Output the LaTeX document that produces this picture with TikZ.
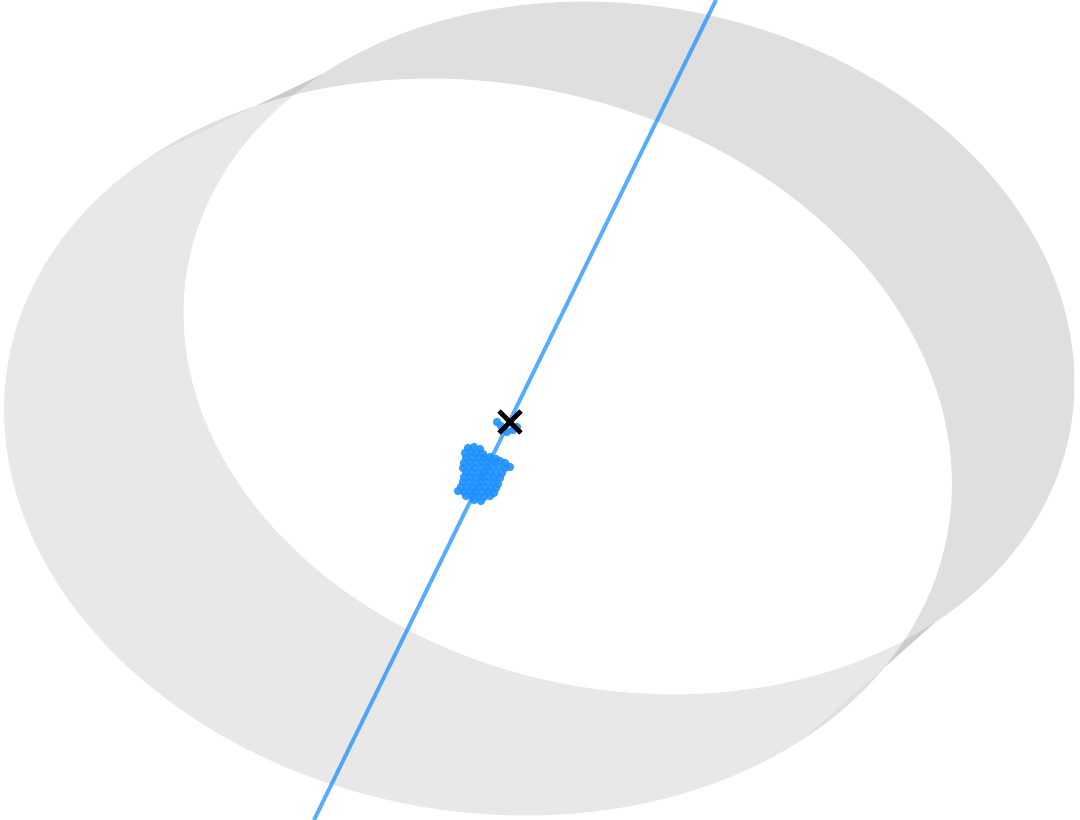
\documentclass[tikz,border=0pt]{standalone}
\usepackage{tikz}
\usetikzlibrary{shapes.misc}
\definecolor{dotblue}{RGB}{30,144,255}

\begin{document}
\begin{tikzpicture}[x=0.02cm, y=-0.02cm,
  backsheet/.style={fill=black, fill opacity=0.125},
  frontsheet/.style={fill=black, fill opacity=0.09},
  rayline/.style={draw=dotblue, line width=2.2pt, draw opacity=0.75},
  pt/.style={fill=dotblue, fill opacity=0.9},
  obsmark/.style={cross out, draw=black, line width=2.8pt, minimum size=0.34cm, inner sep=0pt}
]
\useasboundingbox (0,0) rectangle (1080,820);

% tube between the two rims, as two translucent sheets
\fill[frontsheet] plot[domain=38.3:218.3, samples=80, variable=\t]
    ({478+469.12*cos(\t)-67.89*sin(\t)}, {447+89.06*cos(\t)+357.61*sin(\t)})
  -- plot[domain=218.3:38.3, samples=80, variable=\t]
    ({629+440.97*cos(\t)-63.82*sin(\t)}, {348+83.72*cos(\t)+336.15*sin(\t)})
  -- cycle;
\fill[backsheet] plot[domain=218.3:398.3, samples=80, variable=\t]
    ({478+469.12*cos(\t)-67.89*sin(\t)}, {447+89.06*cos(\t)+357.61*sin(\t)})
  -- plot[domain=398.3:218.3, samples=80, variable=\t]
    ({629+440.97*cos(\t)-63.82*sin(\t)}, {348+83.72*cos(\t)+336.15*sin(\t)})
  -- cycle;

% fitted line
\coordinate (lo) at (314,820);
\coordinate (hi) at (716,0);
\draw[rayline] (lo) -- (hi);

% samples
\foreach \x/\y in {497/422, 501/426, 507/432, 513/430, 517/427,
  468/448, 474/447, 480/449,
  465/453, 471/452, 477/453, 483/454,
  466/458, 472/457, 478/458, 484/458, 490/457, 496/459,
  464/463, 470/462, 476/463, 482/462, 488/462, 494/462, 500/461, 505/463,
  463/468, 469/467, 475/468, 481/467, 487/468, 493/467, 499/467, 505/468, 510/467,
  466/472, 472/472, 478/473, 484/472, 490/472, 496/473, 502/473,
  464/477, 470/477, 476/478, 482/477, 488/477, 494/478, 500/478,
  463/482, 469/482, 475/483, 481/482, 487/482, 493/483, 498/484,
  461/487, 467/487, 473/488, 479/487, 485/487, 491/488, 496/488,
  458/491, 464/492, 470/491, 476/492, 482/492, 488/492, 494/493,
  466/496, 472/496, 478/497, 484/497, 490/496,
  474/500, 481/501}
  \fill[pt] (\x,\y) circle[radius=0.085cm];

% reference point
\node[obsmark] (obs) at (510,422) {};

\end{tikzpicture}
\end{document}
